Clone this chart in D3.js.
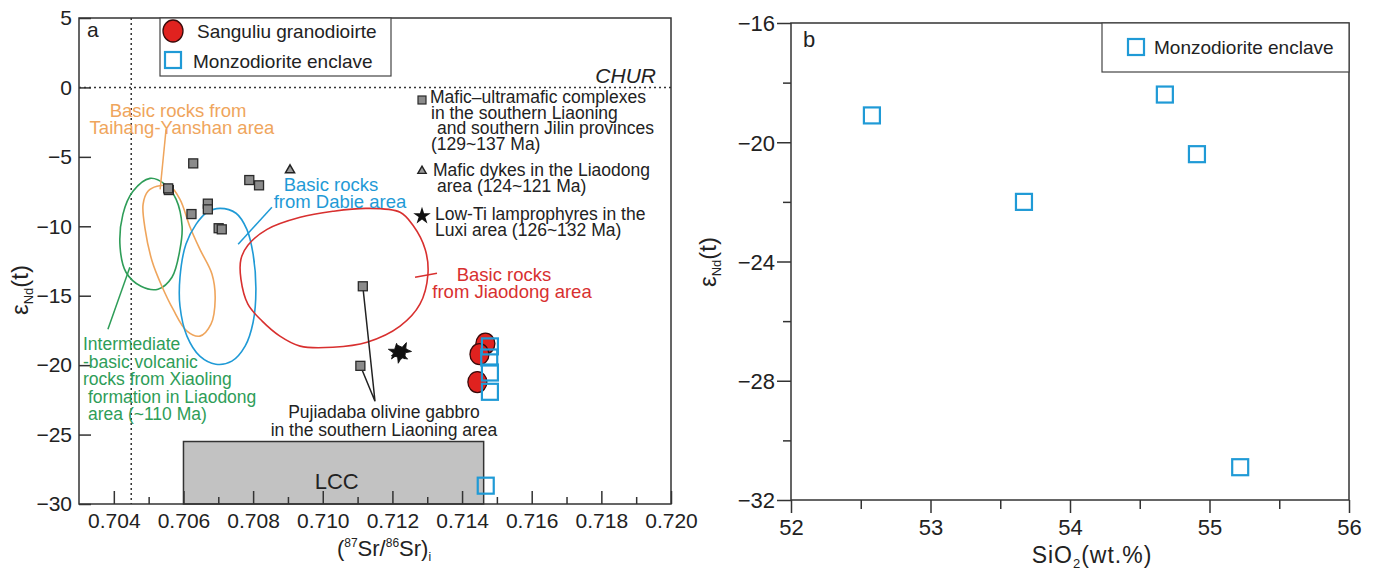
<!DOCTYPE html>
<html>
<head>
<meta charset="utf-8">
<script src="https://cdn.jsdelivr.net/npm/d3@7"></script>
<style>
  body { margin: 0; background: #fff; }
  svg { font-family: "Liberation Sans", Arial, sans-serif; }
</style>
</head>
<body>
<div id="chart"></div>
<script>
// ---- panel a data: (87Sr/86Sr)i vs eNd(t) ----
const srTicks = [0.704, 0.706, 0.708, 0.710, 0.712, 0.714, 0.716, 0.718, 0.720];
const srMinor = [0.705, 0.707, 0.709, 0.711, 0.713, 0.715, 0.717, 0.719];
const ndTicksA = [5, 0, -5, -10, -15, -20, -25, -30];

// Mafic-ultramafic complexes (gray squares)
const maficSr = [0.70628, 0.70558, 0.70556, 0.70623, 0.70670, 0.70670, 0.70701, 0.70710, 0.70789, 0.70817];
const maficNd = [-5.47, -7.39, -7.27, -9.12, -8.37, -8.78, -10.14, -10.22, -6.67, -7.05];
// Pujiadaba olivine gabbro (same marker)
const pujiaSr = [0.71115, 0.71108];
const pujiaNd = [-14.32, -20.05];
// Mafic dykes in Liaodong (triangle)
const dykeSr = [0.70906];
const dykeNd = [-5.95];
// Low-Ti lamprophyres (stars)
const lampSr = [0.71212, 0.71230, 0.71222];
const lampNd = [-19.05, -18.95, -19.25];
// Sanguliu granodiorite (red circles)
const granoSr = [0.71467, 0.71450, 0.71444];
const granoNd = [-18.45, -19.21, -21.22];
// Monzodiorite enclave (blue squares)
const enclaveSr = [0.71480, 0.71478, 0.71480, 0.71480, 0.71468];
const enclaveNdA = [-18.65, -19.45, -20.53, -21.92, -28.68];

// field outlines [Sr, eNd]
const fieldXiaoling = [[0.70504, -6.55], [0.70547, -6.98], [0.70579, -8.06], [0.70596, -10.0], [0.70590, -11.65],
  [0.70567, -13.67], [0.70527, -14.53], [0.70478, -14.32], [0.70435, -13.31], [0.70418, -11.51],
  [0.70426, -9.14], [0.70455, -7.48]];
const fieldTaihang = [[0.70524, -7.12], [0.70561, -7.12], [0.70590, -8.06], [0.70619, -10.07], [0.70647, -11.65],
  [0.70682, -13.45], [0.70691, -15.25], [0.70679, -17.05], [0.70647, -17.91], [0.70610, -17.55],
  [0.70570, -15.97], [0.70538, -14.32], [0.70510, -12.52], [0.70490, -10.22], [0.70484, -8.42], [0.70498, -7.48]];
const fieldDabie = [[0.70705, -8.71], [0.70751, -9.06], [0.70782, -10.22], [0.70800, -12.01], [0.70808, -14.53],
  [0.70800, -16.91], [0.70777, -18.63], [0.70739, -19.71], [0.70693, -19.93], [0.70647, -19.35],
  [0.70610, -17.91], [0.70590, -15.76], [0.70590, -13.67], [0.70607, -11.29], [0.70636, -9.86], [0.70668, -8.99]];
const fieldJiaodong = [[0.70785, -11.37], [0.70840, -10.22], [0.70935, -9.35], [0.71029, -8.92], [0.71127, -8.71],
  [0.71222, -8.99], [0.71259, -9.93], [0.71294, -11.65], [0.71302, -13.45], [0.71279, -15.61], [0.71222, -17.19],
  [0.71127, -18.35], [0.71029, -18.71], [0.70935, -18.63], [0.70877, -17.91], [0.70826, -16.83], [0.70785, -15.61],
  [0.70765, -13.81], [0.70765, -12.37]];

// leader lines
const leaderXiaoling = [[0.70446, -12.95], [0.70383, -17.41]];
const leaderTaihang = [[0.70533, -7.34], [0.70550, -3.02]];
const leaderDabie = [[0.70757, -11.29], [0.70854, -8.63]];
const leaderJiaodong = [[0.71265, -13.67], [0.71328, -13.38]];
const leaderPujia = [[0.71115, -14.32], [0.71150, -22.6], [0.71108, -20.05]];

// LCC box and reference lines
const lccSr = [0.706, 0.71462];
const lccNd = [-25.5, -30];
const churNd = 0;
const mantleSr = 0.7045;

// ---- panel b data: SiO2 vs eNd(t) ----
const sio2Ticks = [52, 53, 54, 55, 56];
const sio2Minor = [52.5, 53.5, 54.5, 55.5];
const ndTicksB = [-16, -20, -24, -28, -32];
const ndMinorB = [-18, -22, -26, -30];
const sio2 = [52.58, 53.67, 54.68, 54.91, 55.22];
const enclaveNdB = [-19.1, -22.0, -18.4, -20.4, -30.9];

const width = 1378, height = 572;
const green = "#2e9d58", orange = "#efa55c", blue = "#1f9ad6", red = "#d8302f";

const svg = d3.select("#chart").append("svg")
  .attr("width", width).attr("height", height)
  .attr("viewBox", [0, 0, width, height]);
svg.append("rect").attr("width", width).attr("height", height).attr("fill", "#fff");

// ================= panel a =================
const xA = d3.scaleLinear().domain([0.703, 0.720]).range([79, 671]);
const yA = d3.scaleLinear().domain([-30, 5]).range([504, 18]);
const gA = svg.append("g");

// LCC box
gA.append("rect")
  .attr("x", xA(lccSr[0])).attr("y", yA(lccNd[0]))
  .attr("width", xA(lccSr[1]) - xA(lccSr[0]))
  .attr("height", yA(lccNd[1]) - yA(lccNd[0]))
  .attr("fill", "#c2c2c2").attr("stroke", "#333").attr("stroke-width", 1.5);
gA.append("text")
  .attr("x", xA(0.7104)).attr("y", yA(-28.9))
  .attr("text-anchor", "middle").style("font-size", "22px").attr("fill", "#222")
  .text("LCC");

// dotted reference lines
gA.append("line")
  .attr("x1", xA(0.703)).attr("x2", xA(0.720))
  .attr("y1", yA(churNd)).attr("y2", yA(churNd))
  .attr("stroke", "#333").attr("stroke-width", 1.5).attr("stroke-dasharray", "2,3");
gA.append("line")
  .attr("x1", xA(mantleSr)).attr("x2", xA(mantleSr))
  .attr("y1", yA(5)).attr("y2", yA(-30))
  .attr("stroke", "#333").attr("stroke-width", 1.5).attr("stroke-dasharray", "2,3");

// fields
const fieldLine = d3.line().curve(d3.curveCatmullRomClosed.alpha(0.5))
  .x(d => xA(d[0])).y(d => yA(d[1]));
const straight = d3.line().x(d => xA(d[0])).y(d => yA(d[1]));
[[fieldXiaoling, green], [fieldTaihang, orange], [fieldDabie, blue], [fieldJiaodong, red]].forEach(([pts, c]) => {
  gA.append("path").attr("d", fieldLine(pts))
    .attr("fill", "none").attr("stroke", c).attr("stroke-width", 1.6);
});
[[leaderXiaoling, green], [leaderTaihang, orange], [leaderDabie, blue], [leaderJiaodong, red], [leaderPujia, "#222"]]
  .forEach(([pts, c]) => {
    gA.append("path").attr("d", straight(pts))
      .attr("fill", "none").attr("stroke", c).attr("stroke-width", 1.5);
  });

// axes
const axA = gA.append("g").attr("transform", `translate(0,${yA(-30)})`)
  .call(d3.axisBottom(xA).tickValues(srTicks).tickFormat(d3.format(".3f"))
    .tickSize(-13).tickSizeOuter(0).tickPadding(9));
const axAminor = gA.append("g").attr("transform", `translate(0,${yA(-30)})`)
  .call(d3.axisBottom(xA).tickValues(srMinor).tickFormat("").tickSize(-7).tickSizeOuter(0));
const ayA = gA.append("g").attr("transform", `translate(${xA(0.703)},0)`)
  .call(d3.axisLeft(yA).tickValues(ndTicksA).tickSize(-12).tickSizeOuter(0).tickPadding(7));
[axA, axAminor, ayA].forEach(a => {
  a.select(".domain").remove();
  a.selectAll(".tick line").attr("stroke", "#333").attr("stroke-width", 1.5);
  a.selectAll(".tick text").attr("fill", "#222").style("font-size", "21px")
    .style("font-family", "'Liberation Sans', Arial, sans-serif");
});

// frame
gA.append("rect")
  .attr("x", xA(0.703)).attr("y", yA(5))
  .attr("width", xA(0.720) - xA(0.703)).attr("height", yA(-30) - yA(5))
  .attr("fill", "none").attr("stroke", "#333").attr("stroke-width", 1.5);

// points
const sq = (g, sr, nd, s, fill, stroke, sw) => g.selectAll(null)
  .data(d3.zip(sr, nd)).join("rect")
  .attr("x", d => xA(d[0]) - s / 2).attr("y", d => yA(d[1]) - s / 2)
  .attr("width", s).attr("height", s)
  .attr("fill", fill).attr("stroke", stroke).attr("stroke-width", sw);

sq(gA, maficSr, maficNd, 9, "#8b8b8b", "#2a2a2a", 1.3);
sq(gA, pujiaSr, pujiaNd, 9, "#8b8b8b", "#2a2a2a", 1.3);

gA.selectAll(null).data(d3.zip(dykeSr, dykeNd)).join("path")
  .attr("transform", d => `translate(${xA(d[0])},${yA(d[1])})`)
  .attr("d", d3.symbol(d3.symbolTriangle).size(36))
  .attr("fill", "#999").attr("stroke", "#222").attr("stroke-width", 1.5);

gA.selectAll(null).data(d3.zip(lampSr, lampNd)).join("path")
  .attr("transform", (d, i) => `translate(${xA(d[0])},${yA(d[1])}) rotate(${i * 24})`)
  .attr("d", d3.symbol(d3.symbolStar).size(85))
  .attr("fill", "#111").attr("stroke", "#111").attr("stroke-width", 0.8);

gA.selectAll(null).data(d3.zip(granoSr, granoNd)).join("ellipse")
  .attr("cx", d => xA(d[0])).attr("cy", d => yA(d[1]))
  .attr("rx", 9.5).attr("ry", 10.5)
  .attr("fill", "#e0221f").attr("stroke", "#3a0a0a").attr("stroke-width", 1.3);

sq(gA, enclaveSr, enclaveNdA, 16, "none", blue, 2.2);

// legend (panel a)
gA.append("rect").attr("x", 160).attr("y", 18).attr("width", 231).attr("height", 58)
  .attr("fill", "#fff").attr("stroke", "#444").attr("stroke-width", 1.2);
gA.append("ellipse").attr("cx", 173).attr("cy", 31).attr("rx", 10).attr("ry", 11)
  .attr("fill", "#e0221f").attr("stroke", "#3a0a0a").attr("stroke-width", 1.3);
gA.append("rect").attr("x", 165).attr("y", 52).attr("width", 16).attr("height", 16)
  .attr("fill", "none").attr("stroke", blue).attr("stroke-width", 2.2);
gA.append("text").attr("x", 197).attr("y", 38).style("font-size", "19px").attr("fill", "#222")
  .text("Sanguliu granodioirte");
gA.append("text").attr("x", 193).attr("y", 68).style("font-size", "19px").attr("fill", "#222")
  .text("Monzodiorite enclave");

gA.append("text").attr("x", 87).attr("y", 37).style("font-size", "21px").attr("fill", "#222").text("a");
gA.append("text").attr("x", 656).attr("y", 83).attr("text-anchor", "end")
  .style("font-size", "21px").style("font-style", "italic").attr("fill", "#222").text("CHUR");

// multi-line label helper
function label(g, lines, color, size, anchor) {
  lines.forEach(([t, x, y]) => {
    g.append("text").attr("x", x).attr("y", y)
      .attr("text-anchor", anchor || "start")
      .style("font-size", size + "px").attr("fill", color).text(t);
  });
}

// symbol key on the right
gA.append("rect").attr("x", 418).attr("y", 96).attr("width", 8).attr("height", 8)
  .attr("fill", "#8b8b8b").attr("stroke", "#2a2a2a").attr("stroke-width", 1.2);
gA.append("path").attr("transform", "translate(422,171)")
  .attr("d", d3.symbol(d3.symbolTriangle).size(30))
  .attr("fill", "#999").attr("stroke", "#222").attr("stroke-width", 1.4);
gA.append("path").attr("transform", "translate(422,216)")
  .attr("d", d3.symbol(d3.symbolStar).size(95)).attr("fill", "#111");
label(gA, [
  ["Mafic\u2013ultramafic complexes", 430, 103],
  ["in the southern Liaoning", 431, 118.5],
  ["and southern Jilin provinces", 437, 134],
  ["(129~137 Ma)", 431, 149.5],
  ["Mafic dykes in the Liaodong", 433, 176],
  ["area (124~121 Ma)", 437, 192],
  ["Low-Ti lamprophyres in the", 435, 220],
  ["Luxi area (126~132 Ma)", 435, 236]
], "#222", 17.5);

label(gA, [["Basic rocks from", 178, 117], ["Taihang-Yanshan area", 182, 134]], orange, 18.5, "middle");
label(gA, [["Basic rocks", 331, 191], ["from Dabie area", 340, 208]], blue, 18.5, "middle");
label(gA, [["Basic rocks", 504, 281], ["from Jiaodong area", 512, 298]], red, 18.5, "middle");
label(gA, [
  ["Intermediate", 83, 350],
  ["-basic volcanic", 83, 367.5],
  ["rocks from Xiaoling", 83, 385],
  ["formation in Liaodong", 88, 402.5],
  ["area (~110 Ma)", 88, 420]
], green, 17.5);
label(gA, [["Pujiadaba olivine gabbro", 384, 418], ["in the southern Liaoning area", 384, 436]], "#222", 17.5, "middle");

// axis titles (panel a)
const xtA = gA.append("text").attr("x", 384).attr("y", 556).attr("text-anchor", "middle")
  .style("font-size", "22px").attr("fill", "#222");
xtA.append("tspan").text("(");
xtA.append("tspan").attr("dy", -9).style("font-size", "12px").text("87");
xtA.append("tspan").attr("dy", 9).text("Sr/");
xtA.append("tspan").attr("dy", -9).style("font-size", "12px").text("86");
xtA.append("tspan").attr("dy", 9).text("Sr)");
xtA.append("tspan").attr("dy", 5).style("font-size", "12px").text("i");

function epsLabel(g, x, y) {
  const t = g.append("text").attr("transform", `translate(${x},${y}) rotate(-90)`)
    .attr("text-anchor", "middle").style("font-size", "24px").attr("fill", "#222");
  t.append("tspan").text("\u03b5");
  t.append("tspan").attr("dy", 5).style("font-size", "13px").text("Nd");
  t.append("tspan").attr("dy", -5).text("(t)");
}
epsLabel(gA, 28, 290);

// ================= panel b =================
const xB = d3.scaleLinear().domain([52, 56]).range([791, 1349]);
const yB = d3.scaleLinear().domain([-32, -16]).range([500, 23]);
const gB = svg.append("g");

const axB = gB.append("g").attr("transform", `translate(0,${yB(-32)})`)
  .call(d3.axisBottom(xB).tickValues(sio2Ticks).tickFormat(d3.format("d"))
    .tickSize(13).tickSizeOuter(0).tickPadding(6));
const axBminor = gB.append("g").attr("transform", `translate(0,${yB(-32)})`)
  .call(d3.axisBottom(xB).tickValues(sio2Minor).tickFormat("").tickSize(9).tickSizeOuter(0));
const ayB = gB.append("g").attr("transform", `translate(${xB(52)},0)`)
  .call(d3.axisLeft(yB).tickValues(ndTicksB).tickFormat(d3.format("d"))
    .tickSize(14).tickSizeOuter(0).tickPadding(2));
const ayBminor = gB.append("g").attr("transform", `translate(${xB(52)},0)`)
  .call(d3.axisLeft(yB).tickValues(ndMinorB).tickFormat("").tickSize(8).tickSizeOuter(0));
[axB, axBminor, ayB, ayBminor].forEach(a => {
  a.select(".domain").remove();
  a.selectAll(".tick line").attr("stroke", "#333").attr("stroke-width", 1.5);
  a.selectAll(".tick text").attr("fill", "#222").style("font-size", "22px")
    .style("font-family", "'Liberation Sans', Arial, sans-serif");
});
ayB.selectAll(".tick text").attr("dy", "0.36em");

gB.append("rect")
  .attr("x", xB(52)).attr("y", yB(-16))
  .attr("width", xB(56) - xB(52)).attr("height", yB(-32) - yB(-16))
  .attr("fill", "none").attr("stroke", "#333").attr("stroke-width", 1.5);

gB.selectAll(null).data(d3.zip(sio2, enclaveNdB)).join("rect")
  .attr("x", d => xB(d[0]) - 8).attr("y", d => yB(d[1]) - 8)
  .attr("width", 16).attr("height", 16)
  .attr("fill", "none").attr("stroke", blue).attr("stroke-width", 2.2);

// legend (panel b)
gB.append("rect").attr("x", 1102).attr("y", yB(-16)).attr("width", xB(56) - 1102).attr("height", 49)
  .attr("fill", "#fff").attr("stroke", "#444").attr("stroke-width", 1.2);
gB.append("rect").attr("x", 1128).attr("y", 39).attr("width", 16).attr("height", 16)
  .attr("fill", "none").attr("stroke", blue).attr("stroke-width", 2.2);
gB.append("text").attr("x", 1154).attr("y", 54).style("font-size", "19px").attr("fill", "#222")
  .text("Monzodiorite enclave");
gB.append("text").attr("x", 803).attr("y", 47).style("font-size", "22px").attr("fill", "#222").text("b");

const xtB = gB.append("text").attr("x", 1092).attr("y", 563).attr("text-anchor", "middle")
  .style("font-size", "23px").style("letter-spacing", "1px").attr("fill", "#222");
xtB.append("tspan").text("SiO");
xtB.append("tspan").attr("dy", 5).style("font-size", "13px").text("2");
xtB.append("tspan").attr("dy", -5).text("(wt.%)");

epsLabel(gB, 716, 262);
</script>
</body>
</html>
